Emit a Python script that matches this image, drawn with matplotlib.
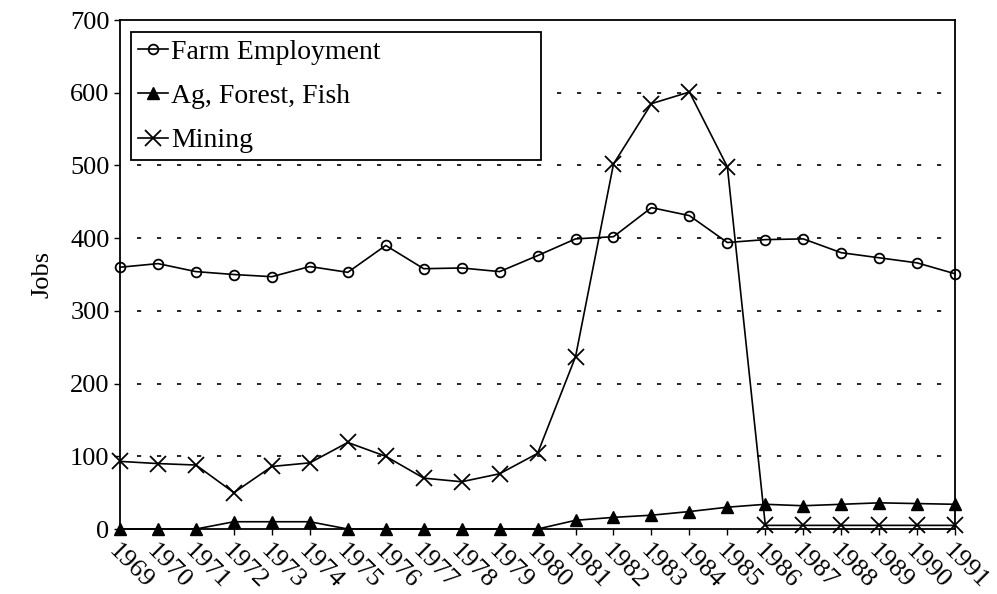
import matplotlib
matplotlib.use('Agg')
import matplotlib.pyplot as plt

plt.rcParams['font.family'] = ['Liberation Serif', 'DejaVu Serif']

years = list(range(1969, 1992))
farm = [360, 365, 354, 350, 347, 361, 353, 390, 358, 359, 354, 376,
        399, 402, 442, 431, 394, 398, 399, 380, 373, 366, 351]
ag = [0, 0, 0, 10, 10, 10, 0, 0, 0, 0, 0, 0,
      12, 16, 19, 24, 30, 34, 32, 34, 36, 35, 34]
mining = [93, 90, 88, 50, 86, 91, 119, 100, 70, 65, 76, 104,
          237, 502, 585, 601, 498, 5, 5, 5, 5, 5, 5]

fig = plt.figure(figsize=(9.97, 5.94), dpi=100)
ax = fig.add_axes([0.1204, 0.1094, 0.8376, 0.8569])

ax.plot(years, farm, '-', color='black', lw=1.2, marker='o', ms=7,
        mfc='none', mec='black', mew=1.3, label='Farm Employment',
        zorder=3, clip_on=False)
ax.plot(years, ag, '-', color='black', lw=1.2, marker='^', ms=8,
        mfc='black', mec='black', label='Ag, Forest, Fish',
        zorder=3, clip_on=False)
ax.plot(years, mining, '-', color='black', lw=1.2, marker='x', ms=12,
        mew=1.3, label='Mining', zorder=3, clip_on=False)

ax.set_xlim(1969, 1991)
ax.set_ylim(0, 700)
ax.set_yticks(range(0, 701, 100))
ax.set_xticks(years)
ax.set_xticklabels([str(y) for y in years], rotation=-45, ha='left',
                   va='top', rotation_mode='anchor')
ax.tick_params(axis='both', labelsize=19, direction='out', length=4,
               color='black', width=1)
ax.tick_params(axis='x', pad=4)

for y in range(100, 700, 100):
    ax.axhline(y, xmin=0.02, xmax=0.985, color='black', lw=1.2,
               linestyle=(0, (2.5, 9.5)), zorder=1)

for s in ax.spines.values():
    s.set_linewidth(1.3)
    s.set_color('black')

ax.set_ylabel('Jobs', fontsize=19, labelpad=12)

leg = ax.legend(loc='upper left', bbox_to_anchor=(0.013, 0.725, 0.491, 0.251),
                mode='expand', fontsize=20, handlelength=1.1,
                handletextpad=0.1, labelspacing=0.68, borderaxespad=0,
                borderpad=0.25, fancybox=False, framealpha=1,
                edgecolor='black')
leg.get_frame().set_linewidth(1.3)

fig.savefig('out.png', dpi=100)
